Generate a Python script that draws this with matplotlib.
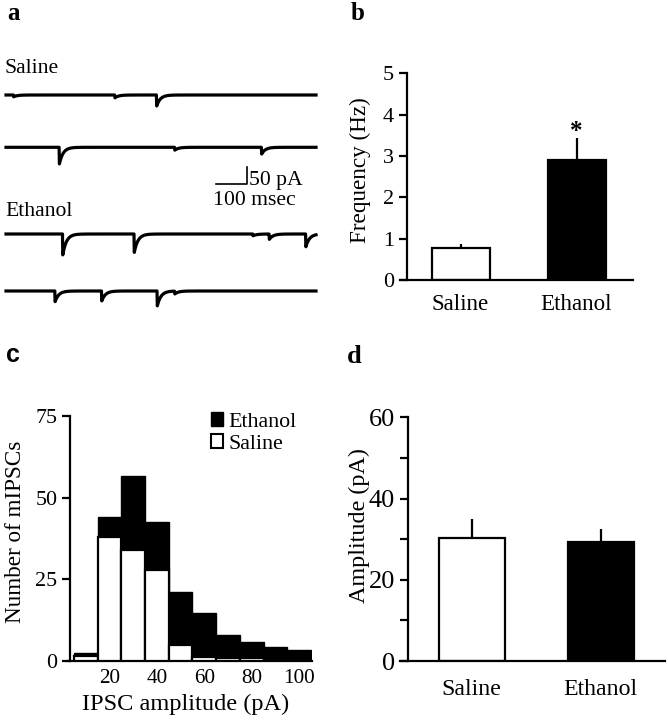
import numpy as np
import matplotlib
matplotlib.use("Agg")
import matplotlib.pyplot as plt
from matplotlib.patches import Patch

plt.rcParams['font.family'] = ['Liberation Serif', 'DejaVu Serif']

# ---------------- data ----------------
# panel a: miniature IPSC events (time in ms, amplitude in pA) for each sweep
ev_times_s1 = [25, 355, 491]
ev_amps_s1 = [5, 8, 31]
ev_times_s2 = [174, 550, 833]
ev_amps_s2 = [47, 8, 19]
ev_times_e1 = [185, 418, 805, 858, 977]
ev_amps_e1 = [59, 52, 5, 15, 36]
ev_times_e2 = [160, 312, 493, 550]
ev_amps_e2 = [30, 28, 42, 8]
sweep_ms = 1010

# panel b: frequency
groups = ["Saline", "Ethanol"]
freq_mean = [0.77, 2.90]
freq_sem = [0.09, 0.53]

# panel c: amplitude histogram
bin_centers = [10, 20, 30, 40, 50, 60, 70, 80, 90, 100]
ethanol_counts = [2.3, 44, 56.5, 42.5, 21, 14.8, 8.0, 5.9, 4.2, 3.4]
saline_counts = [1.6, 38, 34, 28, 4.9, 1.3, 1.0, 1.0, 0.5, 0.0]

# panel d: amplitude
amp_mean = [30.3, 29.2]
amp_sem = [4.7, 3.2]

# ---------------- figure ----------------
W, H = 668, 720
fig = plt.figure(figsize=(W / 100, H / 100), dpi=100)


def px_axes(left, top, right, bottom):
    return fig.add_axes([left / W, 1 - bottom / H, (right - left) / W, (bottom - top) / H])


def ftext(x, y, s, **kw):
    return fig.text(x / W, 1 - y / H, s, **kw)


LW = 1.6

# ---------- panel a ----------
axa = px_axes(0, 40, 335, 310)
px_per_ms = 310 / 1010
px_per_pA = 17.7 / 50
axa.set_xlim(-6 / px_per_ms, (335 - 6) / px_per_ms)
axa.set_ylim(0, 270 / px_per_pA)
axa.axis('off')

t = np.arange(0, sweep_ms + 1, 1.0)
tau = 12.0
baselines_px = [95, 147.3, 234, 291]
all_events = [(ev_times_s1, ev_amps_s1), (ev_times_s2, ev_amps_s2),
              (ev_times_e1, ev_amps_e1), (ev_times_e2, ev_amps_e2)]
for (times, amps), bpx in zip(all_events, baselines_px):
    y = np.zeros_like(t)
    for tt, aa in zip(times, amps):
        m = t >= tt
        y[m] -= aa * np.exp(-(t[m] - tt) / tau)
    base = (310 - bpx) / px_per_pA
    axa.plot(t, y + base, color='black', lw=2.3, solid_joinstyle='round')

# scale bar: 100 ms x 50 pA
sb_x0 = (216 - 6) / px_per_ms
sb_y0 = (310 - 184.3) / px_per_pA
axa.plot([sb_x0, sb_x0 + 100, sb_x0 + 100], [sb_y0, sb_y0, sb_y0 + 50], color='black', lw=1.2)

FA = 15.6
ftext(5, 73, "Saline", fontsize=FA, ha='left', va='baseline')
ftext(5, 216.5, "Ethanol", fontsize=FA, ha='left', va='baseline')
ftext(249, 185, "50 pA", fontsize=FA, ha='left', va='baseline')
ftext(213, 205, "100 msec", fontsize=FA, ha='left', va='baseline')


def style_axes(ax, ytick_fs, xtick_fs):
    for s in ['top', 'right']:
        ax.spines[s].set_visible(False)
    for s in ['left', 'bottom']:
        ax.spines[s].set_linewidth(LW)
    ax.tick_params(axis='y', direction='out', length=6, width=LW, labelsize=ytick_fs, pad=3)
    ax.tick_params(axis='y', which='minor', direction='out', length=6, width=LW)
    ax.tick_params(axis='x', length=0, labelsize=xtick_fs)


# ---------- panel b ----------
axb = px_axes(400, 73.3, 633, 280)
style_axes(axb, 16, 16.6)
xpos = np.arange(len(groups))
axb.bar(xpos, freq_mean, width=0.5, color=['white', 'black'], edgecolor='black', linewidth=LW, zorder=2)
axb.vlines(xpos, freq_mean, np.array(freq_mean) + np.array(freq_sem), color='black', lw=LW, zorder=1)
axb.set_xlim(-0.522, 1.487)
axb.set_ylim(0, 5)
axb.spines['left'].set_position(('axes', 6.7 / 233))
axb.set_yticks([0, 1, 2, 3, 4, 5])
axb.set_xticks(xpos)
axb.set_xticklabels(groups)
axb.tick_params(axis='x', pad=10)
axb.text(1, freq_mean[1] + freq_sem[1], "*", ha='center', va='baseline', fontsize=18, fontweight='bold')
ftext(360.5, 170, "Frequency (Hz)", rotation=90, ha='center', va='center', fontsize=16.7)

# ---------- panel c ----------
axc = px_axes(68.3, 416, 311.7, 661)
style_axes(axc, 15.8, 15.3)
axc.bar(bin_centers, ethanol_counts, width=10, color='black', edgecolor='black', linewidth=1.0, label='Ethanol', zorder=2)
axc.bar(bin_centers, saline_counts, width=10, color='white', edgecolor='black', linewidth=LW, label='Saline', zorder=3)
axc.set_xlim(2.6, 105.3)
axc.set_ylim(0, 75)
axc.spines['left'].set_position(('data', 3.3))
axc.set_yticks([0, 25, 50, 75])
axc.set_xticks([20, 40, 60, 80, 100])
axc.tick_params(axis='x', pad=6)
handles = [Patch(facecolor='black', edgecolor='black', linewidth=1.0),
           Patch(facecolor='white', edgecolor='black', linewidth=1.5)]
axc.legend(handles, ['Ethanol', 'Saline'], loc='upper left', bbox_to_anchor=(0.585, 1.015),
           frameon=False, fontsize=15.8, handlelength=0.55, handleheight=0.6,
           handletextpad=0.25, labelspacing=0.1, borderpad=0, borderaxespad=0)
ftext(15.8, 531.7, "Number of mIPSCs", rotation=90, ha='center', va='center', fontsize=16.7)
ftext(185.8, 710, "IPSC amplitude (pA)", ha='center', va='baseline', fontsize=17.6)

# ---------- panel d ----------
axd = px_axes(400, 417.3, 665, 661)
style_axes(axd, 19, 17.2)
axd.bar(xpos, amp_mean, width=0.515, color=['white', 'black'], edgecolor='black', linewidth=LW, zorder=2)
axd.vlines(xpos, amp_mean, np.array(amp_mean) + np.array(amp_sem), color='black', lw=LW, zorder=1)
axd.set_xlim(-0.556, 1.498)
axd.set_ylim(0, 60)
axd.spines['left'].set_position(('axes', 7.7 / 265))
axd.set_yticks([0, 20, 40, 60])
axd.set_yticks([10, 30, 50], minor=True)
axd.set_xticks(xpos)
axd.set_xticklabels(groups)
axd.tick_params(axis='x', pad=13)
ftext(359, 525.5, "Amplitude (pA)", rotation=90, ha='center', va='center', fontsize=17.4)

# ---------- panel letters ----------
ftext(7, 20.5, "a", fontsize=18, fontweight='bold', ha='left', va='baseline')
ftext(351, 20, "b", fontsize=18, fontweight='bold', ha='left', va='baseline')
ftext(6, 362, "c", fontsize=18, fontweight='bold', ha='left', va='baseline', family='Liberation Sans')
ftext(347, 363, "d", fontsize=19, fontweight='bold', ha='left', va='baseline')

fig.savefig("out.png", dpi=100, facecolor='white')
